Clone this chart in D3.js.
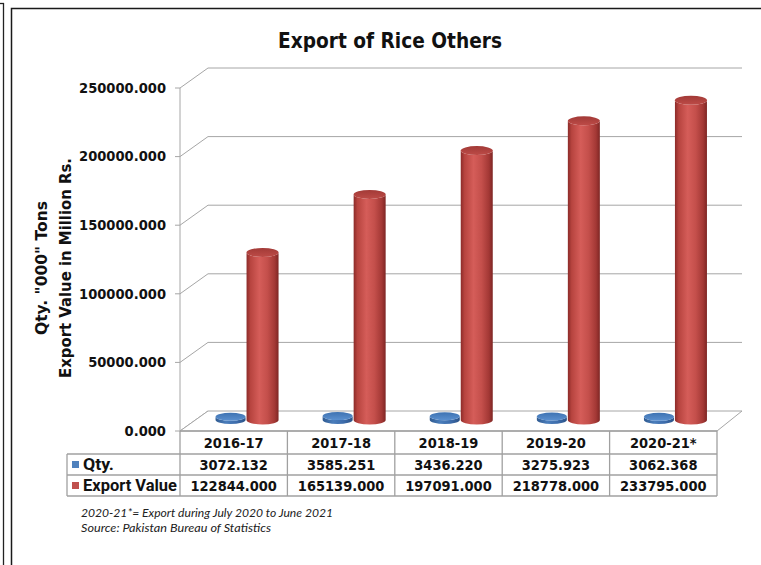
<!DOCTYPE html>
<html>
<head>
<meta charset="utf-8">
<script src="https://cdn.jsdelivr.net/npm/d3@7"></script>
<style>
html,body{margin:0;padding:0;background:#fff;}
svg{display:block;}
</style>
</head>
<body>
<svg id="chart" width="761" height="565"></svg>
<script>
// ---- data ----
const categories = ["2016-17", "2017-18", "2018-19", "2019-20", "2020-21*"];
const qtyValues = [3072.132, 3585.251, 3436.220, 3275.923, 3062.368];
const exportValues = [122844.000, 165139.000, 197091.000, 218778.000, 233795.000];
const yTicks = [0, 50000, 100000, 150000, 200000, 250000];
const seriesNames = ["Qty.", "Export Value"];
const titleText = "Export of Rice Others";
const axisTitleLines = ["Qty. \"000\" Tons", "Export Value in Million Rs."];
const footnotes = ["2020-21*= Export during July 2020 to  June 2021", "Source: Pakistan Bureau of Statistics"];

// ---- layout ----
const svg = d3.select("#chart");
const fmt = d3.format(".3f");
const FRONT = {x0: 180, x1: 717, y0: 431, y1: 88};
const DEPTH = {dy: -20};
const BACK = {x0: 208, x1: 742};
const xFront = d3.scaleBand().domain(categories).range([FRONT.x0, FRONT.x1]);
const xBack = d3.scaleBand().domain(categories).range([BACK.x0, BACK.x1]);
const yFront = d3.scaleLinear().domain([0, 250000]).range([FRONT.y0, FRONT.y1]);
const yBack = d3.scaleLinear().domain([0, 250000]).range([FRONT.y0 + DEPTH.dy, FRONT.y1 + DEPTH.dy]);
const yMid = d3.scaleLinear().domain([0, 250000]).range([FRONT.y0 + DEPTH.dy/2, FRONT.y1 + DEPTH.dy/2]);
const xInner = d3.scaleBand().domain(seriesNames).range([-33, 31]);

function fitText(sel, target) {
  const node = sel.node();
  const fs = parseFloat(sel.attr("font-size"));
  const w = node.getComputedTextLength();
  if (w > 0) sel.attr("font-size", (fs * target / w).toFixed(2));
  return sel;
}
function squeeze(sel, target) {
  sel.attr("textLength", target).attr("lengthAdjust", "spacingAndGlyphs");
  return sel;
}

// frame
svg.append("line").attr("x1", 3.5).attr("x2", 3.5).attr("y1", 3).attr("y2", 565).attr("stroke", "#222").attr("stroke-width", 1.3);
svg.append("line").attr("x1", 0).attr("x2", 4).attr("y1", 3.5).attr("y2", 3.5).attr("stroke", "#222").attr("stroke-width", 1.3);
svg.append("rect").attr("x", 11.5).attr("y", 8.5).attr("width", 760).attr("height", 570)
  .attr("fill", "none").attr("stroke", "#1a1a1a").attr("stroke-width", 1.5);

// defs gradients
const defs = svg.append("defs");
function hGrad(id, stops) {
  const g = defs.append("linearGradient").attr("id", id).attr("x1", "0%").attr("x2", "100%").attr("y1", "0%").attr("y2", "0%");
  stops.forEach(s => g.append("stop").attr("offset", s[0]).attr("stop-color", s[1]));
}
function vGrad(id, stops) {
  const g = defs.append("linearGradient").attr("id", id).attr("x1", "0%").attr("x2", "0%").attr("y1", "0%").attr("y2", "100%");
  stops.forEach(s => g.append("stop").attr("offset", s[0]).attr("stop-color", s[1]));
}
hGrad("redBody", [["0%", "#8c2b29"], ["12%", "#b7443f"], ["40%", "#d55d59"], ["65%", "#c44f4b"], ["88%", "#a33835"], ["100%", "#7e2624"]]);
vGrad("redTop", [["0%", "#a23a37"], ["100%", "#bd4b47"]]);
hGrad("blueBody", [["0%", "#2f5a90"], ["35%", "#4a7dbb"], ["70%", "#3d6cab"], ["100%", "#2b5286"]]);
vGrad("blueTop", [["0%", "#3f73b2"], ["100%", "#5b90cf"]]);

// back wall gridlines and slanted wall lines
const grid = svg.append("g");
yTicks.forEach(t => {
  if (t > 0) {
    grid.append("line").attr("x1", BACK.x0).attr("x2", BACK.x1)
      .attr("y1", yBack(t)).attr("y2", yBack(t)).attr("stroke", "#a6a6a6").attr("stroke-width", 1);
  }
  grid.append("line").attr("x1", FRONT.x0).attr("x2", BACK.x0)
    .attr("y1", yFront(t)).attr("y2", yBack(t)).attr("stroke", "#a6a6a6").attr("stroke-width", 1);
  grid.append("line").attr("x1", FRONT.x0 - 5).attr("x2", FRONT.x0)
    .attr("y1", yFront(t)).attr("y2", yFront(t)).attr("stroke", "#a6a6a6").attr("stroke-width", 1);
});
// floor
svg.append("polygon")
  .attr("points", [[FRONT.x0, yFront(0)], [FRONT.x1, yFront(0)], [BACK.x1, yBack(0)], [BACK.x0, yBack(0)]].map(p => p.join(",")).join(" "))
  .attr("fill", "#fff").attr("stroke", "#a6a6a6").attr("stroke-width", 1);
// front vertical axis
svg.append("line").attr("x1", FRONT.x0).attr("x2", FRONT.x0).attr("y1", yFront(250000)).attr("y2", yFront(0))
  .attr("stroke", "#a6a6a6").attr("stroke-width", 1);

// y tick labels
svg.append("g").selectAll("text").data(yTicks).join("text")
  .attr("x", 166).attr("y", d => yFront(d)).attr("dy", "0.36em")
  .attr("text-anchor", "end").attr("font-family", "DejaVu Sans").attr("font-weight", "bold")
  .attr("font-size", 13.5).attr("fill", "#111").text(d => fmt(d))
  .each(function() { const s = d3.select(this); squeeze(s, this.getComputedTextLength() * 0.97); });

// axis title
const at1 = svg.append("text").attr("transform", "translate(47,268) rotate(-90)")
  .attr("text-anchor", "middle").attr("font-family", "DejaVu Sans").attr("font-weight", "bold")
  .attr("font-size", 15).attr("fill", "#111").text(axisTitleLines[0]);
squeeze(at1, 134);
const at2 = svg.append("text").attr("transform", "translate(70.5,268) rotate(-90)")
  .attr("text-anchor", "middle").attr("font-family", "DejaVu Sans").attr("font-weight", "bold")
  .attr("font-size", 15).attr("fill", "#111").text(axisTitleLines[1]);
squeeze(at2, 220);

// title
const title = svg.append("text").attr("x", 390).attr("y", 48).attr("text-anchor", "middle")
  .attr("font-family", "DejaVu Sans").attr("font-weight", "bold").attr("font-size", 20.5)
  .attr("fill", "#111").text(titleText);
squeeze(title, 224);

// cylinders
function midX(c) { return (xFront(c) + xFront.bandwidth()/2 + xBack(c) + xBack.bandwidth()/2) / 2; }
function cylinder(g, cx, rx, ry, value, bodyFill, topFill) {
  const yb = yMid(0) - 1, yt = yMid(value);
  const x0 = cx - rx, x1 = cx + rx;
  g.append("path")
    .attr("d", `M${x0},${yt} L${x0},${yb} A${rx},${ry} 0 0 0 ${x1},${yb} L${x1},${yt} A${rx},${ry} 0 0 1 ${x0},${yt} Z`)
    .attr("fill", bodyFill);
  g.append("ellipse").attr("cx", cx).attr("cy", yt).attr("rx", rx).attr("ry", ry).attr("fill", topFill);
}
const bars = svg.append("g");
categories.forEach((c, i) => {
  const m = midX(c);
  cylinder(bars, m + xInner(seriesNames[0]) + xInner.bandwidth()/2, 15, 4, qtyValues[i], "url(#blueBody)", "url(#blueTop)");
  cylinder(bars, m + xInner(seriesNames[1]) + xInner.bandwidth()/2, 16, 4.5, exportValues[i], "url(#redBody)", "url(#redTop)");
});

// data table
const T = {left: 67, rows: [431, 454, 475, 496]};
const tg = svg.append("g");
const tStroke = "#a0a0a0";
T.rows.forEach((y, k) => {
  tg.append("line").attr("x1", k === 0 ? FRONT.x0 : T.left).attr("x2", FRONT.x1)
    .attr("y1", y).attr("y2", y).attr("stroke", tStroke).attr("stroke-width", 1.3);
});
tg.append("line").attr("x1", T.left).attr("x2", T.left).attr("y1", T.rows[1]).attr("y2", T.rows[3]).attr("stroke", tStroke).attr("stroke-width", 1.3);
const colEdges = categories.map(c => xFront(c)).concat([FRONT.x1]);
colEdges.forEach(x => {
  tg.append("line").attr("x1", x).attr("x2", x).attr("y1", T.rows[0]).attr("y2", T.rows[3]).attr("stroke", tStroke).attr("stroke-width", 1.3);
});
const rowMid = k => (T.rows[k] + T.rows[k+1]) / 2;
function cellText(x, y, txt) {
  const t = tg.append("text").attr("x", x).attr("y", y).attr("dy", "0.37em").attr("text-anchor", "middle")
    .attr("font-family", "DejaVu Sans").attr("font-weight", "bold").attr("font-size", 14).attr("fill", "#111").text(txt);
  squeeze(t, t.node().getComputedTextLength() * 0.93);
  return t;
}
categories.forEach((c, i) => {
  const cx = xFront(c) + xFront.bandwidth()/2;
  cellText(cx, rowMid(0), c);
  cellText(cx, rowMid(1), fmt(qtyValues[i]));
  cellText(cx, rowMid(2), fmt(exportValues[i]));
});
// legend keys + row labels
const keyColors = ["#4f81bd", "#c0504d"];
const labelWidths = [31, 94];
seriesNames.forEach((s, k) => {
  const y = rowMid(k + 1);
  tg.append("rect").attr("x", 72).attr("y", y - 3.5).attr("width", 7).attr("height", 7).attr("fill", keyColors[k]);
  const t = tg.append("text").attr("x", 83).attr("y", y).attr("dy", "0.36em")
    .attr("font-family", "Roboto").attr("font-weight", "bold").attr("font-size", 16).attr("fill", "#111").text(s);
  squeeze(t, labelWidths[k]);
});

// footnotes
const fn1 = svg.append("text").attr("x", 81).attr("y", 517).attr("font-family", "Lato").attr("font-style", "italic")
  .attr("font-size", 12).attr("fill", "#222").text(footnotes[0]);
squeeze(fn1, 252);
const fn2 = svg.append("text").attr("x", 81).attr("y", 532).attr("font-family", "Lato").attr("font-style", "italic")
  .attr("font-size", 12).attr("fill", "#222").text(footnotes[1]);
squeeze(fn2, 190);
</script>
</body>
</html>
